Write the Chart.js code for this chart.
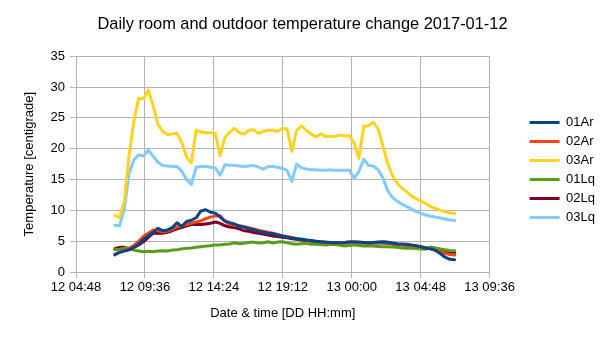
<!DOCTYPE html>
<html>
<head>
<meta charset="utf-8">
<script src="https://cdn.jsdelivr.net/npm/chart.js@4/dist/chart.umd.min.js"></script>
<style>
  html, body { margin: 0; padding: 0; background: #fff; }
  #wrap { width: 605px; height: 340px; }
</style>
</head>
<body>
<div id="wrap"><canvas id="c" width="605" height="340"></canvas></div>
<script>
// Time of each reading, minutes since 2017-01-12 00:00
const times = [450,470,490,510,530,550,570,590,610,630,650,670,690,710,730,750,770,790,810,830,
  850,870,890,910,930,950,970,990,1010,1030,1050,1070,1090,1110,1130,1150,1170,1190,1210,1230,
  1250,1270,1290,1310,1330,1350,1370,1390,1410,1430,1450,1470,1490,1510,1530,1550,1570,1590,1610,1630,
  1650,1670,1690,1710,1730,1750,1770,1790,1810,1830,1850,1870];

const seriesNames = ['01Ar','02Ar','03Ar','01Lq','02Lq','03Lq'];

const v01Ar = [2.75,3.2,3.4,3.6,4.0,4.5,5.3,5.9,6.4,7.1,
  6.7,6.8,7.2,8.0,7.4,8.2,8.4,8.8,9.9,10.1,
  9.7,9.55,8.9,8.3,8.0,7.8,7.45,7.3,7.0,6.9,
  6.6,6.45,6.3,6.2,6.0,5.85,5.65,5.5,5.4,5.3,
  5.2,5.1,5.0,4.9,4.85,4.8,4.75,4.75,4.8,4.9,
  4.9,4.85,4.8,4.75,4.8,4.85,4.9,4.85,4.7,4.6,
  4.55,4.5,4.4,4.25,4.1,3.9,3.75,3.5,3.0,2.4,
  2.05,2.0];

const v02Ar = [2.9,3.2,3.5,3.9,4.3,5.0,5.8,6.3,6.8,6.7,
  6.5,6.6,6.9,7.3,7.5,7.7,7.9,8.1,8.3,8.65,
  8.9,9.1,9.15,8.2,7.8,7.6,7.5,7.35,7.2,7.0,
  6.8,6.6,6.45,6.3,6.1,5.9,5.75,5.6,5.4,5.3,
  5.15,5.05,4.95,4.9,4.8,4.75,4.7,4.7,4.75,4.8,
  4.8,4.8,4.75,4.7,4.75,4.8,4.8,4.75,4.6,4.5,
  4.45,4.4,4.3,4.2,4.05,3.9,3.75,3.55,3.3,3.05,
  2.85,2.75];

const v03Ar = [9.2,8.8,11.5,19.0,24.5,28.2,28.1,29.5,27.0,24.0,
  22.8,22.3,22.4,22.5,21.0,18.6,17.7,23.0,22.7,22.6,
  22.6,22.5,18.9,21.8,22.7,23.3,22.6,22.4,23.0,23.1,
  22.5,22.8,23.0,23.0,22.8,23.3,23.2,19.6,23.0,23.7,
  23.0,22.4,21.9,22.4,22.0,22.0,22.0,22.2,22.1,22.1,
  20.9,18.4,23.7,23.7,24.3,23.2,20.5,17.6,15.7,14.4,
  13.6,13.0,12.3,11.9,11.5,11.1,10.6,10.3,10.0,9.75,
  9.6,9.5];

const v01Lq = [3.6,3.7,3.85,3.75,3.55,3.4,3.3,3.35,3.3,3.4,
  3.45,3.4,3.55,3.6,3.75,3.85,3.9,4.0,4.1,4.2,
  4.25,4.4,4.4,4.5,4.55,4.75,4.6,4.65,4.8,4.85,
  4.7,4.75,4.9,4.7,4.85,4.9,4.75,4.6,4.5,4.6,
  4.65,4.5,4.5,4.45,4.4,4.45,4.5,4.35,4.2,4.3,
  4.4,4.3,4.2,4.2,4.2,4.15,4.1,4.1,4.05,4.0,
  3.9,3.85,3.85,3.8,3.75,3.7,4.05,3.9,3.75,3.6,
  3.5,3.45];

const v02Lq = [3.8,4.0,4.0,3.8,4.0,4.4,4.9,5.6,6.3,6.3,
  6.3,6.45,6.7,7.0,7.2,7.5,7.7,7.7,7.7,7.8,
  7.9,8.1,7.9,7.5,7.3,7.2,7.0,6.7,6.6,6.4,
  6.3,6.15,6.0,5.85,5.75,5.65,5.55,5.4,5.3,5.2,
  5.1,5.0,4.9,4.85,4.8,4.75,4.7,4.7,4.7,4.75,
  4.75,4.7,4.7,4.65,4.7,4.7,4.7,4.65,4.55,4.45,
  4.4,4.35,4.25,4.15,4.0,3.9,3.8,3.6,3.45,3.3,
  3.2,3.15];

const v03Lq = [7.6,7.5,10.3,16.0,18.2,19.0,18.8,19.8,18.8,17.8,
  17.3,17.2,17.1,17.1,16.4,15.0,14.2,17.0,17.1,17.1,
  17.0,16.9,15.7,17.4,17.3,17.3,17.2,17.1,17.2,17.3,
  17.0,16.7,17.1,17.1,17.0,16.8,16.5,14.7,17.5,16.9,
  16.7,16.6,16.6,16.5,16.5,16.6,16.5,16.5,16.5,16.5,
  15.2,16.3,18.3,17.3,17.2,16.6,15.3,13.2,12.1,11.5,
  11.0,10.6,10.2,9.8,9.5,9.25,9.05,8.9,8.75,8.6,
  8.45,8.35];

// x ticks (minutes since 12 00:00) and y ticks
const xTicks = [288,576,864,1152,1440,1728,2016];
const yTicks = [0,5,10,15,20,25,30,35];

const seriesValues = [v01Ar, v02Ar, v03Ar, v01Lq, v02Lq, v03Lq];
const colors = ['#004586','#ff420e','#ffd320','#579d1c','#7e0021','#83caff'];

Chart.defaults.font.family = "'Liberation Sans', Arial, sans-serif";
Chart.defaults.color = '#000';

function fmt(m) {
  const day = 12 + Math.floor(m / 1440);
  const rem = ((m % 1440) + 1440) % 1440;
  const hh = Math.floor(rem / 60), mm = Math.round(rem % 60);
  return day + ' ' + String(hh).padStart(2,'0') + ':' + String(mm).padStart(2,'0');
}

const datasets = seriesNames.map((name, k) => ({
  label: name,
  data: times.map((t, i) => ({x: t, y: seriesValues[k][i]})),
  borderColor: colors[k],
  backgroundColor: colors[k],
  borderWidth: 3,
  pointRadius: 0,
  tension: 0,
  borderJoinStyle: 'round',
  borderCapStyle: 'round',
  yAxisID: 'y'
}));

const gridColor = '#b3b3b3';

new Chart(document.getElementById('c'), {
  type: 'line',
  data: { datasets },
  options: {
    responsive: false,
    animation: false,
    events: [],
    layout: { padding: 0 },
    plugins: {
      title: {
        display: true,
        text: 'Daily room and outdoor temperature change 2017-01-12',
        font: { size: 16.4, weight: 'normal' },
        color: '#000',
        padding: { top: 15, bottom: 21.6 }
      },
      legend: {
        position: 'right',
        align: 'center',
        labels: {
          boxWidth: 30,
          boxHeight: 3,
          padding: 6,
          color: '#000',
          font: { size: 13 },
          generateLabels(chart) {
            return chart.data.datasets.map((ds, i) => ({
              text: ds.label,
              fillStyle: ds.borderColor,
              strokeStyle: ds.borderColor,
              lineWidth: 0,
              hidden: false,
              datasetIndex: i,
              fontColor: '#000'
            }));
          }
        }
      },
      tooltip: { enabled: false }
    },
    scales: {
      x: {
        type: 'linear',
        min: xTicks[0],
        max: xTicks[xTicks.length - 1],
        afterBuildTicks(s) { s.ticks = xTicks.map(v => ({ value: v })); },
        ticks: {
          callback: (v) => fmt(v),
          maxRotation: 0,
          autoSkip: false,
          padding: 2,
          font: { size: 13 },
          color: '#000'
        },
        grid: { color: gridColor, tickColor: gridColor, tickLength: 6, lineWidth: 1 },
        border: { color: gridColor },
        title: {
          display: true,
          text: 'Date & time [DD HH:mm]',
          font: { size: 13 },
          color: '#000',
          padding: { top: 0, bottom: 19 }
        },
        afterFit(s) { s.height = 68; }
      },
      y: {
        type: 'linear',
        min: yTicks[0],
        max: yTicks[yTicks.length - 1],
        afterBuildTicks(s) { s.ticks = yTicks.map(v => ({ value: v })); },
        ticks: { padding: 5, font: { size: 13 }, color: '#000' },
        grid: { color: gridColor, tickColor: gridColor, tickLength: 6, lineWidth: 1 },
        border: { color: gridColor },
        title: {
          display: true,
          text: 'Temperature [centigrade]',
          font: { size: 13 },
          color: '#000',
          padding: { top: 22, bottom: 0 }
        },
        afterFit(s) { s.width = 76; }
      },
      y2: {
        type: 'linear',
        position: 'right',
        display: true,
        grid: { display: false, drawTicks: false },
        border: { display: false },
        ticks: { display: false },
        afterFit(s) { s.width = 34; }
      }
    }
  }
});
</script>
</body>
</html>
